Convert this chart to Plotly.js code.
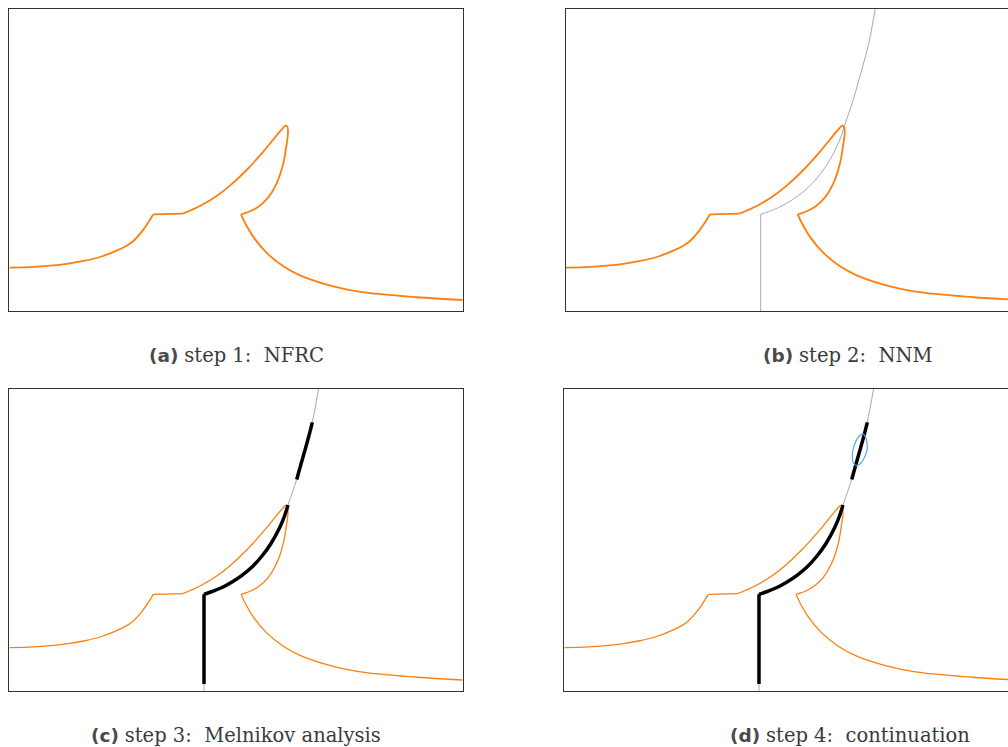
<!DOCTYPE html>
<html>
<head>
<meta charset="utf-8">
<script src="https://cdn.plot.ly/plotly-3.0.1.min.js"></script>
<style>
html, body { margin: 0; padding: 0; overflow: hidden; background: #ffffff; }
#chart { width: 1022px; height: 747px; }
</style>
</head>
<body>
<div id="chart"></div>
<script>
// Nonlinear frequency response curve (NFRC), normalised frequency / amplitude
const nfrcX = [0.0000, 0.0530, 0.0898, 0.1265, 0.1633, 0.2000, 0.2368, 0.2589, 0.2736, 0.2956, 0.3177,
               0.3824, 0.4206, 0.4574, 0.4868, 0.5235, 0.5603, 0.5897, 0.6029, 0.6088, 0.6132,
               0.6147, 0.6140, 0.6117, 0.6044, 0.5897, 0.5713, 0.5493, 0.5272, 0.5110,
               0.5198, 0.5382, 0.5677, 0.6044, 0.6412, 0.7147, 0.7882, 0.8985, 1.0000];
const nfrcY = [0.1435, 0.1462, 0.1501, 0.1562, 0.1656, 0.1788, 0.1998, 0.2163, 0.2318, 0.2693, 0.3201,
               0.3223, 0.3477, 0.3808, 0.4150, 0.4669, 0.5276, 0.5817, 0.6049, 0.6137, 0.6104,
               0.5971, 0.5773, 0.5530, 0.4890, 0.4227, 0.3764, 0.3455, 0.3278, 0.3201,
               0.2923, 0.2454, 0.1924, 0.1482, 0.1179, 0.0815, 0.0605, 0.0456, 0.0364];
// corners of the NFRC (indices): start of plateau, end of plateau, cusp
const nfrcBreaks = [10, 11, 29];

// Nonlinear normal mode (backbone)
const nnmX = [0.4294, 0.4294, 0.4471, 0.4691, 0.4912, 0.5132, 0.5353, 0.5573, 0.5772,
              0.5970, 0.6070, 0.6147, 0.6246, 0.6339, 0.6434, 0.6522, 0.6610, 0.6683, 0.6753, 0.6820];
const nnmY = [0.0000, 0.3202, 0.3295, 0.3427, 0.3609, 0.3831, 0.4106, 0.4470, 0.4884,
              0.5430, 0.5795, 0.6159, 0.6589, 0.7003, 0.7517, 0.7980, 0.8460, 0.8897, 0.9437, 1.0000];

// Melnikov analysis: branches of the NNM with predicted responses
const melnikovX = [0.4294, 0.4294, 0.4471, 0.4691, 0.4912, 0.5132, 0.5353, 0.5573, 0.5772,
                   0.5970, 0.6070, 0.6147];
const melnikovY = [0.0230, 0.3202, 0.3295, 0.3427, 0.3609, 0.3831, 0.4106, 0.4470, 0.4884,
                   0.5430, 0.5795, 0.6159];
const isolaX = [0.6339, 0.6434, 0.6522, 0.6610, 0.6683];
const isolaY = [0.7003, 0.7517, 0.7980, 0.8460, 0.8897];

// Continued isola (closed curve)
const contX = [0.6595, 0.6654, 0.6683, 0.6670, 0.6610, 0.6537, 0.6449, 0.6374, 0.6352, 0.6374, 0.6427, 0.6506, 0.6595];
const contY = [0.8510, 0.8368, 0.8146, 0.7924, 0.7705, 0.7540, 0.7460, 0.7560, 0.7815, 0.8036, 0.8255, 0.8444, 0.8510];

const captionTags = ['(a)', '(b)', '(c)', '(d)'];
const captionTexts = ['step 1:&nbsp; NFRC', 'step 2:&nbsp; NNM', 'step 3:&nbsp; Melnikov analysis', 'step 4:&nbsp; continuation'];

const ORANGE = '#ff7f0e', GRAY = '#a9a9a9', BLACK = '#000000', BLUE = '#5aa9e2';

function piece(x, y, i0, i1, ax, color, width, shape) {
  return {
    x: x.slice(i0, i1 + 1), y: y.slice(i0, i1 + 1),
    xaxis: 'x' + ax, yaxis: 'y' + ax, type: 'scatter', mode: 'lines',
    line: { color: color, width: width, shape: shape, smoothing: 1 },
    hoverinfo: 'skip', showlegend: false
  };
}
function nfrc(ax, width) {
  const n = nfrcX.length - 1, b = nfrcBreaks;
  return [
    piece(nfrcX, nfrcY, 0, b[0], ax, ORANGE, width, 'spline'),
    piece(nfrcX, nfrcY, b[0], b[1], ax, ORANGE, width, 'linear'),
    piece(nfrcX, nfrcY, b[1], b[2], ax, ORANGE, width, 'spline'),
    piece(nfrcX, nfrcY, b[2], n, ax, ORANGE, width, 'spline')
  ];
}
function branch(x, y, ax, color, width) {
  return [
    piece(x, y, 0, 1, ax, color, width, 'linear'),
    piece(x, y, 1, x.length - 1, ax, color, width, 'spline')
  ];
}
function seg(x, y, ax, color, width) {
  return [piece(x, y, 0, x.length - 1, ax, color, width, 'spline')];
}

const data = [].concat(
  nfrc('', 1.8),
  branch(nnmX, nnmY, '2', GRAY, 1),
  nfrc('2', 1.8),
  branch(nnmX, nnmY, '3', GRAY, 1),
  nfrc('3', 1.3),
  branch(melnikovX, melnikovY, '3', BLACK, 3.5),
  seg(isolaX, isolaY, '3', BLACK, 3.5),
  branch(nnmX, nnmY, '4', GRAY, 1),
  nfrc('4', 1.3),
  branch(melnikovX, melnikovY, '4', BLACK, 3.5),
  seg(isolaX, isolaY, '4', BLACK, 3.5),
  seg(contX, contY, '4', BLUE, 1.2)
);

const W = 1022, H = 747;
function ax(domain, anchor) {
  return {
    domain: domain, anchor: anchor, range: [0, 1], fixedrange: true,
    showline: true, mirror: true, linecolor: '#333333', linewidth: 1,
    showgrid: false, zeroline: false, showticklabels: false, ticks: ''
  };
}
const xa = [9.3 / W, 462.7 / W];
const xb = [566 / W, 1019.4 / W];
const xd = [564.3 / W, 1017.7 / W];
const yTop = [(H - 311) / H, (H - 9) / H];
const yBot = [(H - 691) / H, (H - 389) / H];

const capPos = [[236.2, 355], [848.3, 355], [235.5, 735], [850, 735]];
const annotations = captionTags.map((tag, i) => ({
  xref: 'paper', yref: 'paper',
  x: capPos[i][0] / W, y: (H - capPos[i][1]) / H,
  xanchor: 'center', yanchor: 'middle', showarrow: false,
  text: '<b>' + tag + '</b> <span style="font-family:\'DejaVu Serif\';font-size:19.5px;color:#3a3a3a">' + captionTexts[i] + '</span>',
  font: { family: 'DejaVu Sans', size: 18.5, color: '#4a4a4a' }
}));

const layout = {
  width: W, height: H,
  margin: { l: 0, r: 0, t: 0, b: 0 },
  paper_bgcolor: '#ffffff', plot_bgcolor: '#ffffff',
  showlegend: false,
  xaxis: ax(xa, 'y'), yaxis: ax(yTop, 'x'),
  xaxis2: ax(xb, 'y2'), yaxis2: ax(yTop, 'x2'),
  xaxis3: ax(xa, 'y3'), yaxis3: ax(yBot, 'x3'),
  xaxis4: ax(xd, 'y4'), yaxis4: ax(yBot, 'x4'),
  annotations: annotations
};

Plotly.newPlot('chart', data, layout, { displayModeBar: false, staticPlot: true });
</script>
</body>
</html>
